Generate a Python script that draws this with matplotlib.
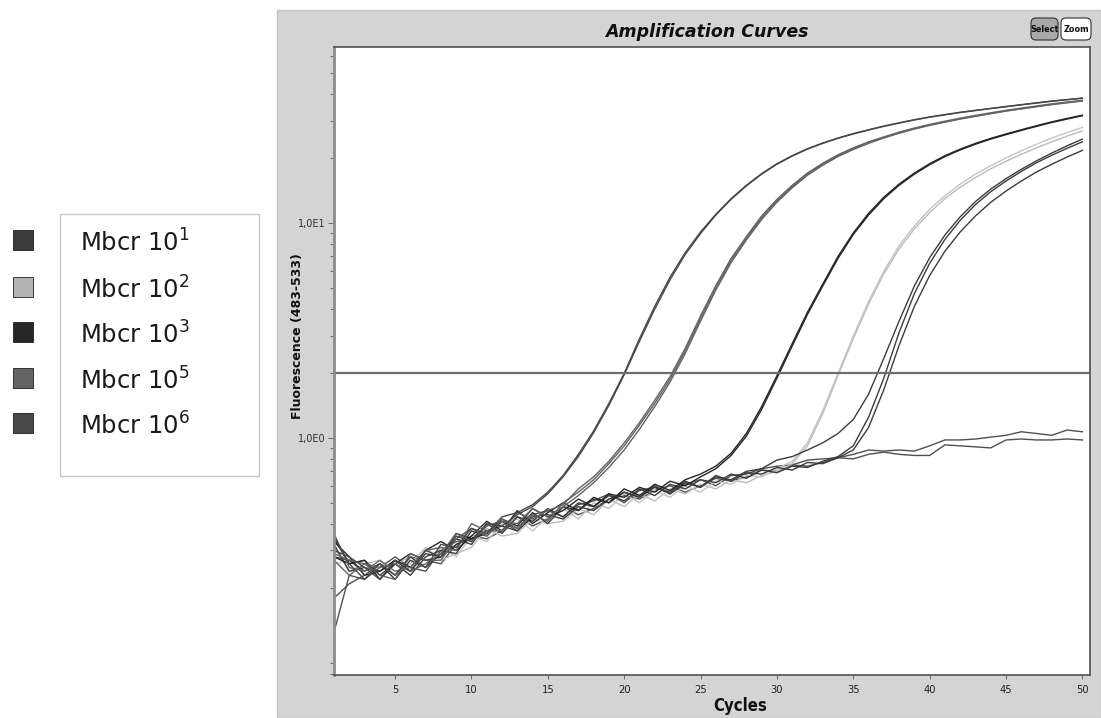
import matplotlib
matplotlib.use('Agg')
import matplotlib.pyplot as plt
from matplotlib import font_manager
from matplotlib.patches import Rectangle, FancyBboxPatch
from matplotlib.ticker import FixedLocator, NullFormatter, LogLocator

cycles = list(range(1, 51))

# Mbcr 10^6 (Cq ~19.8)
mbcr6_a = [0.35, 0.26, 0.22, 0.26, 0.23, 0.28, 0.25, 0.32, 0.31, 0.38, 0.36, 0.43, 0.45, 0.49, 0.56, 0.67, 0.84, 1.08, 1.45, 2.00,
           2.90, 4.10, 5.60, 7.30, 9.10, 11.0, 13.0, 15.0, 17.0, 18.9, 20.6, 22.2, 23.6, 24.9, 26.1, 27.2, 28.3, 29.3, 30.3, 31.2,
           32.0, 32.8, 33.5, 34.2, 34.9, 35.6, 36.3, 37.0, 37.6, 38.2]
mbcr6_b = [0.30, 0.28, 0.25, 0.22, 0.27, 0.24, 0.30, 0.28, 0.35, 0.33, 0.40, 0.39, 0.44, 0.48, 0.55, 0.66, 0.82, 1.06, 1.42, 1.97,
           2.82, 3.98, 5.45, 7.15, 8.95, 10.9, 12.9, 14.9, 16.9, 18.8, 20.5, 22.1, 23.5, 24.8, 26.0, 27.1, 28.2, 29.2, 30.2, 31.1,
           31.9, 32.7, 33.4, 34.1, 34.8, 35.5, 36.2, 36.9, 37.5, 38.1]
# Mbcr 10^5 (Cq ~23.2)
mbcr5_a = [0.29, 0.27, 0.26, 0.23, 0.22, 0.29, 0.27, 0.27, 0.34, 0.38, 0.35, 0.42, 0.38, 0.44, 0.41, 0.50, 0.56, 0.64, 0.76, 0.92,
           1.15, 1.45, 1.88, 2.55, 3.60, 5.00, 6.70, 8.50, 10.6, 12.7, 14.8, 16.9, 18.8, 20.6, 22.2, 23.7, 25.0, 26.3, 27.5, 28.6,
           29.6, 30.6, 31.5, 32.4, 33.3, 34.1, 34.9, 35.7, 36.4, 37.1]
mbcr5_b = [0.36, 0.25, 0.24, 0.27, 0.24, 0.25, 0.30, 0.31, 0.30, 0.40, 0.37, 0.37, 0.45, 0.42, 0.46, 0.49, 0.58, 0.66, 0.78, 0.95,
           1.18, 1.50, 1.93, 2.62, 3.70, 5.12, 6.85, 8.65, 10.8, 12.9, 15.0, 17.1, 19.0, 20.8, 22.4, 23.9, 25.2, 26.5, 27.7, 28.8,
           29.8, 30.8, 31.7, 32.6, 33.5, 34.3, 35.1, 35.9, 36.6, 37.3]
mbcr5_c = [0.27, 0.23, 0.26, 0.25, 0.26, 0.24, 0.26, 0.29, 0.36, 0.33, 0.39, 0.41, 0.40, 0.47, 0.43, 0.48, 0.54, 0.62, 0.73, 0.88,
           1.10, 1.40, 1.82, 2.48, 3.50, 4.88, 6.55, 8.35, 10.4, 12.5, 14.6, 16.7, 18.6, 20.4, 22.0, 23.5, 24.9, 26.2, 27.4, 28.5,
           29.5, 30.5, 31.4, 32.3, 33.2, 34.0, 34.8, 35.6, 36.3, 37.0]
# Mbcr 10^3 (Cq ~30)
mbcr3_a = [0.33, 0.28, 0.23, 0.24, 0.27, 0.25, 0.30, 0.33, 0.30, 0.35, 0.41, 0.37, 0.46, 0.40, 0.45, 0.50, 0.46, 0.53, 0.50, 0.58,
           0.54, 0.61, 0.57, 0.64, 0.68, 0.74, 0.85, 1.05, 1.40, 1.95, 2.75, 3.85, 5.20, 7.00, 9.00, 11.1, 13.2, 15.2, 17.1, 18.9,
           20.6, 22.1, 23.5, 24.8, 26.0, 27.2, 28.4, 29.6, 30.7, 31.8]
mbcr3_b = [0.28, 0.26, 0.27, 0.22, 0.26, 0.29, 0.27, 0.28, 0.36, 0.34, 0.36, 0.42, 0.39, 0.47, 0.43, 0.46, 0.52, 0.48, 0.55, 0.53,
           0.59, 0.56, 0.63, 0.60, 0.66, 0.72, 0.83, 1.02, 1.36, 1.90, 2.68, 3.76, 5.10, 6.85, 8.85, 10.9, 13.0, 15.0, 16.9, 18.7,
           20.4, 21.9, 23.3, 24.6, 25.8, 27.0, 28.2, 29.4, 30.5, 31.6]
# Mbcr 10^2 (Cq ~34)
mbcr2_a = [0.31, 0.24, 0.26, 0.27, 0.23, 0.26, 0.31, 0.27, 0.29, 0.31, 0.38, 0.35, 0.36, 0.42, 0.40, 0.41, 0.47, 0.44, 0.52, 0.48,
           0.55, 0.51, 0.58, 0.55, 0.61, 0.58, 0.64, 0.62, 0.67, 0.70, 0.76, 0.92, 1.30, 1.95, 2.90, 4.20, 5.80, 7.60, 9.40, 11.2,
           13.0, 14.7, 16.3, 17.9, 19.4, 20.9, 22.4, 23.9, 25.4, 26.9]
mbcr2_b = [0.26, 0.27, 0.23, 0.24, 0.26, 0.28, 0.25, 0.31, 0.28, 0.35, 0.33, 0.40, 0.42, 0.37, 0.43, 0.47, 0.42, 0.50, 0.47, 0.55,
           0.50, 0.57, 0.53, 0.60, 0.56, 0.63, 0.61, 0.67, 0.66, 0.72, 0.78, 0.95, 1.34, 2.00, 2.98, 4.32, 5.98, 7.85, 9.70, 11.6,
           13.4, 15.2, 16.9, 18.5, 20.1, 21.7, 23.3, 24.9, 26.4, 27.9]
# Mbcr 10^1 (Cq ~36.7-37.3)
mbcr1_a = [0.34, 0.26, 0.27, 0.23, 0.26, 0.23, 0.28, 0.30, 0.29, 0.37, 0.35, 0.41, 0.38, 0.45, 0.40, 0.48, 0.46, 0.52, 0.50, 0.56,
           0.53, 0.59, 0.56, 0.63, 0.59, 0.66, 0.64, 0.70, 0.72, 0.79, 0.82, 0.88, 0.95, 1.05, 1.22, 1.60, 2.35, 3.50, 5.10, 6.90,
           8.80, 10.7, 12.6, 14.4, 16.1, 17.8, 19.5, 21.2, 22.9, 24.6]
mbcr1_b = [0.28, 0.27, 0.24, 0.26, 0.22, 0.27, 0.25, 0.29, 0.34, 0.32, 0.40, 0.36, 0.43, 0.41, 0.47, 0.43, 0.50, 0.48, 0.54, 0.51,
           0.58, 0.54, 0.61, 0.58, 0.64, 0.62, 0.68, 0.65, 0.71, 0.69, 0.74, 0.73, 0.78, 0.82, 0.92, 1.25, 1.90, 3.10, 4.70, 6.50,
           8.40, 10.3, 12.2, 14.0, 15.7, 17.4, 19.1, 20.7, 22.3, 23.9]
mbcr1_c = [0.32, 0.24, 0.25, 0.24, 0.27, 0.24, 0.29, 0.28, 0.32, 0.34, 0.37, 0.39, 0.37, 0.43, 0.44, 0.42, 0.48, 0.46, 0.52, 0.56,
           0.53, 0.60, 0.55, 0.62, 0.59, 0.67, 0.63, 0.69, 0.68, 0.73, 0.71, 0.77, 0.76, 0.81, 0.88, 1.12, 1.68, 2.70, 4.10, 5.70,
           7.40, 9.10, 10.8, 12.5, 14.1, 15.7, 17.3, 18.8, 20.3, 21.8]
# no amplification
neg_a = [0.125, 0.23, 0.22, 0.25, 0.28, 0.25, 0.24, 0.30, 0.33, 0.34, 0.39, 0.41, 0.37, 0.44, 0.46, 0.43, 0.49, 0.51, 0.55, 0.50,
         0.57, 0.59, 0.55, 0.61, 0.64, 0.60, 0.67, 0.68, 0.72, 0.74, 0.75, 0.79, 0.80, 0.81, 0.84, 0.88, 0.87, 0.88, 0.87, 0.92,
         0.98, 0.98, 0.99, 1.01, 1.03, 1.07, 1.05, 1.03, 1.09, 1.07]
neg_b = [0.18, 0.21, 0.23, 0.26, 0.23, 0.28, 0.27, 0.26, 0.32, 0.35, 0.34, 0.37, 0.43, 0.39, 0.42, 0.48, 0.44, 0.47, 0.52, 0.54,
         0.52, 0.57, 0.60, 0.56, 0.60, 0.65, 0.63, 0.66, 0.71, 0.70, 0.75, 0.74, 0.77, 0.81, 0.80, 0.84, 0.86, 0.84, 0.83, 0.83,
         0.93, 0.92, 0.91, 0.90, 0.98, 0.99, 0.98, 0.98, 0.99, 0.98]

threshold = 2.0

legend_labels = [r'Mbcr 10$^{\mathregular{1}}$', r'Mbcr 10$^{\mathregular{2}}$', r'Mbcr 10$^{\mathregular{3}}$',
                 r'Mbcr 10$^{\mathregular{5}}$', r'Mbcr 10$^{\mathregular{6}}$']
legend_colors = ['#3c3c3c', '#b4b4b4', '#262626', '#646464', '#484848']

curves = [
    (neg_a, '#505050'), (neg_b, '#505050'),
    (mbcr2_a, '#bcbcbc'), (mbcr2_b, '#c4c4c4'),
    (mbcr1_a, legend_colors[0]), (mbcr1_b, legend_colors[0]), (mbcr1_c, legend_colors[0]),
    (mbcr3_a, legend_colors[2]), (mbcr3_b, legend_colors[2]),
    (mbcr5_a, legend_colors[3]), (mbcr5_b, legend_colors[3]), (mbcr5_c, legend_colors[3]),
    (mbcr6_a, legend_colors[4]), (mbcr6_b, legend_colors[4]),
]

names = {f.name for f in font_manager.fontManager.ttflist}
narrow = 'Liberation Sans Narrow' if 'Liberation Sans Narrow' in names else 'DejaVu Sans'

W, H = 1101, 718
fig = plt.figure(figsize=(W / 100, H / 100), dpi=100)
fig.patch.set_facecolor('white')

# grey software panel
fig.add_artist(Rectangle((277 / W, 0), (W - 277) / W, (H - 10) / H, transform=fig.transFigure,
                         facecolor='#d4d4d4', edgecolor='#c4c4c4', lw=1, zorder=0))

ax = fig.add_axes([334 / W, 43 / H, (1090 - 334) / W, (675 - 47) / H])
ax.set_facecolor('white')
for vals, col in curves:
    ax.plot(cycles, vals, color=col, lw=1.0)
ax.axhline(threshold, color='#6e6e6e', lw=1.6)

ax.set_yscale('log')
ax.set_ylim(0.079, 66)
ax.set_xlim(1, 50.5)
ax.yaxis.set_major_locator(FixedLocator([1, 10]))
ax.set_yticklabels(['1,0E0', '1,0E1'], fontsize=7, family='DejaVu Sans', color='#303030')
ax.yaxis.set_minor_locator(LogLocator(base=10, subs=[2, 3, 4, 5, 6, 7, 8, 9]))
ax.yaxis.set_minor_formatter(NullFormatter())
ax.set_xticks([5, 10, 15, 20, 25, 30, 35, 40, 45, 50])
ax.set_xticklabels([str(v) for v in [5, 10, 15, 20, 25, 30, 35, 40, 45, 50]],
                   fontsize=8, family=narrow, fontstretch='condensed', color='#202020')
ax.tick_params(axis='y', which='major', length=4, width=0.8, color='#707070', pad=2)
ax.tick_params(axis='y', which='minor', length=3, width=0.8, color='#707070')
ax.tick_params(axis='x', which='major', length=3, width=0.8, color='#707070', pad=4)

for side in ['top', 'right', 'bottom']:
    ax.spines[side].set_color('#505050')
    ax.spines[side].set_linewidth(1.2)
ax.spines['left'].set_color('#8c8c8c')
ax.spines['left'].set_linewidth(2)

fig.text(298 / W, 1 - 336 / H, 'Fluorescence (483-533)', rotation=90, ha='center', va='center',
         fontsize=9, fontweight='bold', family='DejaVu Sans', color='#101010')
fig.text(740 / W, 1 - 706 / H, 'Cycles', ha='center', va='center', fontsize=12, fontweight='bold',
         family=narrow, fontstretch='condensed', color='#101010')
fig.text(707 / W, 1 - 32 / H, 'Amplification Curves', ha='center', va='center', fontsize=12.5,
         fontweight='heavy', style='italic', family='DejaVu Sans', color='#101010')

# Select / Zoom buttons
inch = fig.dpi_scale_trans
fig.add_artist(FancyBboxPatch((10.31, (H - 40) / 100), 0.27, 0.22, boxstyle='round,pad=0,rounding_size=0.05',
                              transform=inch, facecolor='#a8a8a8', edgecolor='#303030', lw=0.8))
fig.add_artist(FancyBboxPatch((10.61, (H - 40) / 100), 0.30, 0.22, boxstyle='round,pad=0,rounding_size=0.05',
                              transform=inch, facecolor='white', edgecolor='#303030', lw=0.8))
fig.text(10.445, (H - 29) / 100, 'Select', transform=inch, ha='center', va='center', fontsize=6.5,
         fontweight='bold', family=narrow, fontstretch='condensed', color='#101010')
fig.text(10.76, (H - 29) / 100, 'Zoom', transform=inch, ha='center', va='center', fontsize=6.5,
         fontweight='bold', family=narrow, fontstretch='condensed', color='#101010')

# legend at left
fig.add_artist(Rectangle((0.60, (H - 476) / 100), 1.99, 2.62, transform=inch,
                         facecolor='white', edgecolor='#c8c8c8', lw=1))
row_y = [240, 287, 332, 378, 423]
for lab, col, yc in zip(legend_labels, legend_colors, row_y):
    fig.add_artist(Rectangle((0.13, (H - yc - 10) / 100), 0.20, 0.20, transform=inch,
                             facecolor=col, edgecolor='#1e1e1e', lw=0.6))
    fig.text(0.80, (H - yc - 3) / 100, lab, transform=inch, ha='left', va='center',
             fontsize=17.5, family='DejaVu Sans', color='#1a1a1a')

fig.savefig('out.png', dpi=100)
